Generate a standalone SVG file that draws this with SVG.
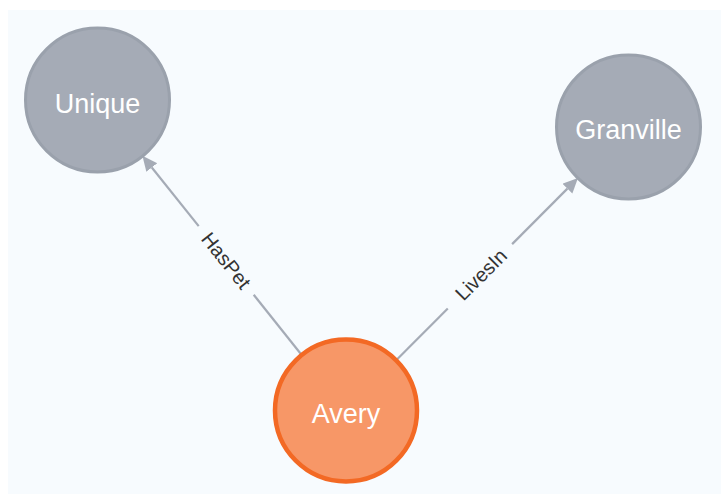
<svg xmlns="http://www.w3.org/2000/svg" width="721" height="494" viewBox="0 0 721 494">
<style>
.node-gray{fill:#a5abb6;stroke:#9aa1ac;stroke-width:3}
.node-orange{fill:#f79767;stroke:#f36924;stroke-width:4.5}
.nlabel{font-family:"Liberation Sans",Arial,sans-serif;font-size:27px;fill:#ffffff;text-anchor:middle;dominant-baseline:central}
.edge{stroke:#a5abb6;stroke-width:2.2;fill:none}
.elabel{font-family:"Liberation Sans",Arial,sans-serif;font-size:20px;fill:#333333;text-anchor:middle;dominant-baseline:central}
</style>
<defs>
<marker id="arrow" markerUnits="userSpaceOnUse" markerWidth="18" markerHeight="16" refX="0" refY="7" orient="auto" viewBox="0 0 18 16">
<path d="M0,0 L15,7 L0,14 Z" fill="#a5abb6"/>
</marker>
</defs>
<rect x="0" y="0" width="721" height="494" fill="#ffffff"/>
<rect x="8" y="10" width="713" height="484" fill="#f7fbfe"/>
<g id="connectors">
<g id="edge-haspet">
<path class="edge" d="M301.1,354.2 L253.7,294.8"/>
<path class="edge" d="M198.7,226.1 L151.8,167.5" marker-end="url(#arrow)"/>
<text class="elabel" transform="translate(226.2,260.5) rotate(51.4)">HasPet</text>
</g>
<g id="edge-livesin">
<path class="edge" d="M396.9,359.5 L447.8,308.5"/>
<path class="edge" d="M512.1,244.1 L567.4,188.6" marker-end="url(#arrow)"/>
<text class="elabel" transform="translate(481,274.5) rotate(-45.06)">LivesIn</text>
</g>
</g>
<g id="node-unique">
<circle class="node-gray" cx="97.5" cy="100" r="72"/>
<text class="nlabel" x="97.5" y="103.5">Unique</text>
</g>
<g id="node-granville">
<circle class="node-gray" cx="628.5" cy="127" r="72"/>
<text class="nlabel" x="628.5" y="130">Granville</text>
</g>
<g id="node-avery">
<circle class="node-orange" cx="346" cy="410.5" r="71"/>
<text class="nlabel" x="346" y="413.5">Avery</text>
</g>
</svg>
